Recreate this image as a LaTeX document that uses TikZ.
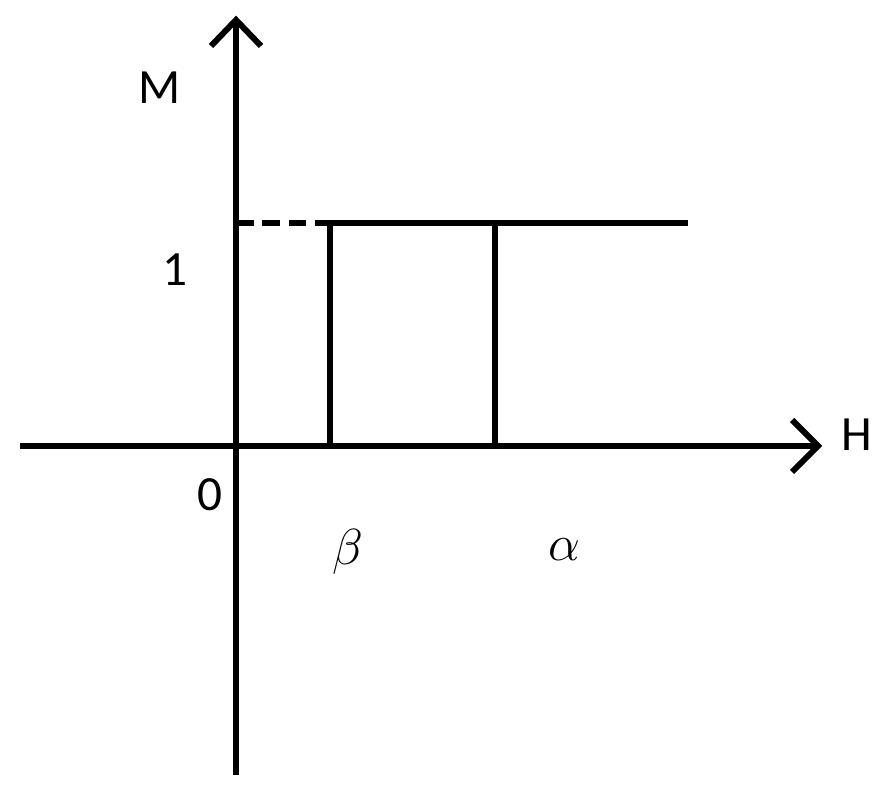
\documentclass[tikz,border=0pt]{standalone}
\usepackage{fontspec}
\setmainfont{Carlito}
\begin{document}
\begin{tikzpicture}[x=0.01cm,y=-0.01cm,
  ln/.style={line width=1.7pt},
  lbl/.style={font=\fontsize{14pt}{16pt}\selectfont, inner sep=0pt}]
\useasboundingbox (0,0) rectangle (892,795);
\coordinate (yb) at (236,775); \coordinate (yt) at (236,20);
\coordinate (xl) at (20,446); \coordinate (xr) at (818,446);
\draw[ln] (yb) -- (yt);
\draw[ln] (xl) -- (xr);
\draw[ln, line join=miter] (211,46) -- (yt) -- (261,46);
\draw[ln, line join=miter] (792,420) -- (xr) -- (792,472);
\coordinate (a) at (330,446); \coordinate (b) at (330,223);
\coordinate (c) at (495,446); \coordinate (d) at (495,223);
\coordinate (e) at (688,223); \coordinate (f) at (236,223);
\draw[ln] (a) -- (b) -- (e);
\draw[ln] (c) -- (d);
\draw[ln, dash pattern=on 5pt off 2.5pt] (f) -- (b);
\node[lbl] (M) at (160,88) {M};
\node[lbl] (one) at (175,270) {1};
\node[lbl] (zero) at (210,495) {0};
\node[lbl] (H) at (857,435) {H};
\node[lbl] (beta) at (348,552) {$\beta$};
\node[lbl] (alpha) at (564,550) {$\alpha$};
\end{tikzpicture}
\end{document}
